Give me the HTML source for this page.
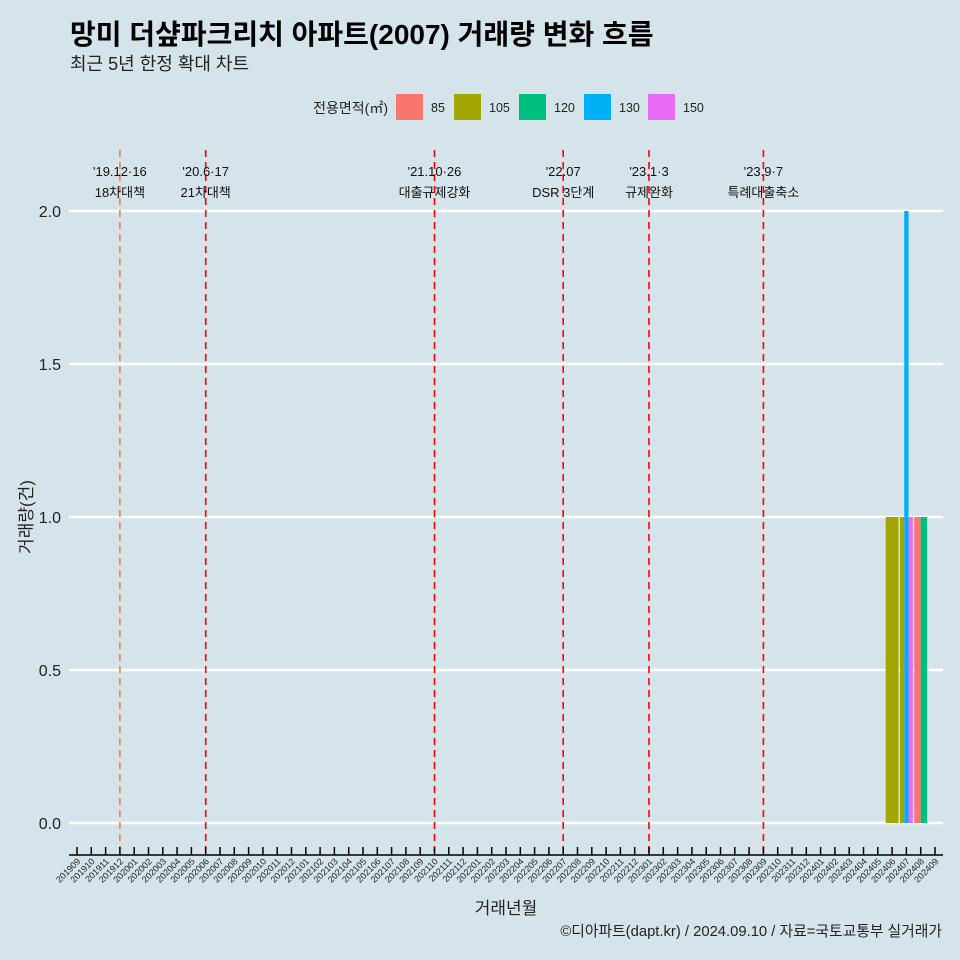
<!DOCTYPE html>
<html><head><meta charset="utf-8"><style>
body{margin:0;background:#d5e4eb;}
svg{display:block;font-family:"Liberation Sans","Noto Sans CJK KR",sans-serif;}
</style></head><body>
<svg id="c" width="960" height="960" viewBox="0 0 960 960">
<rect width="960" height="960" fill="#d5e4eb"/>
<text x="70" y="44" font-size="28" font-weight="bold" fill="#000">망미 더샾파크리치 아파트(2007) 거래량 변화 흐름</text>
<text x="70" y="70" font-size="18" fill="#222">최근 5년 한정 확대 차트</text>
<text x="388" y="113" font-size="14" text-anchor="end" fill="#222">전용면적(㎡)</text>
<g id="grid"></g><g id="vlines"></g><g id="bars"></g><g id="xaxis"></g><g id="legend"></g>
<text x="32" y="517" font-size="17" fill="#222" text-anchor="middle" transform="rotate(-90 32 517)">거래량(건)</text>
<text x="506" y="914" font-size="17" fill="#222" text-anchor="middle">거래년월</text>
<text x="942" y="936" font-size="14.8" fill="#222" text-anchor="end">©디아파트(dapt.kr) / 2024.09.10 / 자료=국토교통부 실거래가</text>
</svg>
<script>
const months=[];for(let y=2019;y<=2024;y++)for(let m=1;m<=12;m++){const k=y*100+m;if(k>=201909&&k<=202409)months.push(String(k));}
const yTicks=[0,0.5,1,1.5,2];
const sizes=['85','105','120','130','150'];
const colors=['#f8766d','#a3a500','#00bf7d','#00b0f6','#e76bf3'];
const barMonths=['202406','202407','202407','202407','202408','202408'];
const barSizes=['105','105','130','150','85','120'];
const barCounts=[1,1,2,1,1,1];
const eventMonths=['201912','202006','202110','202207','202301','202309'];
const eventDates=["'19.12·16","'20.6·17","'21.10·26","'22.07","'23.1·3","'23.9·7"];
const eventLabels=['18차대책','21차대책','대출규제강화','DSR 3단계','규제완화','특례대출축소'];
const NS='http://www.w3.org/2000/svg';
function mk(p,t,a){const e=document.createElementNS(NS,t);for(const k in a)e.setAttribute(k,a[k]);document.getElementById(p).appendChild(e);return e;}
const x0=77,dx=(935-77)/(months.length-1);
const X=m=>x0+months.indexOf(m)*dx;
const Y=v=>823-v*(823-211)/2;
yTicks.forEach(v=>{
 const l=mk('grid','line',{x1:69,x2:943,y1:Y(v),y2:Y(v),stroke:'#fff','stroke-width':2.5});
 
 
 const t=mk('grid','text',{x:61,y:Y(v)+6,'font-size':16,'text-anchor':'end',fill:'#222'});t.textContent=v.toFixed(1);
 
 
});
eventMonths.forEach((m,i)=>{
 const x=X(m);
 const l=mk('vlines','line',{x1:x,x2:x,y1:150,y2:852,stroke:i==0?'#f08050':'#ff0000','stroke-width':1.6,'stroke-dasharray':'7 5'});
 
 
 const t=mk('vlines','text',{x:x,y:176,'font-size':13,'text-anchor':'middle',fill:'#111'});t.textContent=eventDates[i];
 
 
 const t2=mk('vlines','text',{x:x,y:197,'font-size':13,'text-anchor':'middle',fill:'#111'});t2.textContent=eventLabels[i];
 
 
});
const W=dx*0.9;
barMonths.forEach((m,i)=>{
 const same=barMonths.map((mm,j)=>mm===m?j:-1).filter(j=>j>=0);
 const n=same.length,k=same.indexOf(i),w=W/n;
 const x=X(m)-W/2+k*w;
 const r=mk('bars','rect',{x:x,y:Y(barCounts[i]),width:w,height:Y(0)-Y(barCounts[i]),fill:colors[sizes.indexOf(barSizes[i])]});
 
 
});
mk('xaxis','line',{x1:69,x2:943,y1:855,y2:855,stroke:'#000','stroke-width':1.5});
months.forEach(m=>{
 const x=X(m);
 const tk=mk('xaxis','line',{x1:x,x2:x,y1:847,y2:855,stroke:'#000','stroke-width':1.5});
 
 
 const t=mk('xaxis','text',{x:x+4,y:862,'font-size':9,'text-anchor':'end',fill:'#222',transform:`rotate(-45 ${x+4} 862)`});t.textContent=m;
 
 
});
const lx=[396,454,519,584,648];
sizes.forEach((s,i)=>{
 const r=mk('legend','rect',{x:lx[i],y:94,width:27,height:26,fill:colors[i]});
 
 
 const t=mk('legend','text',{x:lx[i]+35,y:112,'font-size':12.5,fill:'#222'});t.textContent=s;
 
 
});
</script>
</body></html>
